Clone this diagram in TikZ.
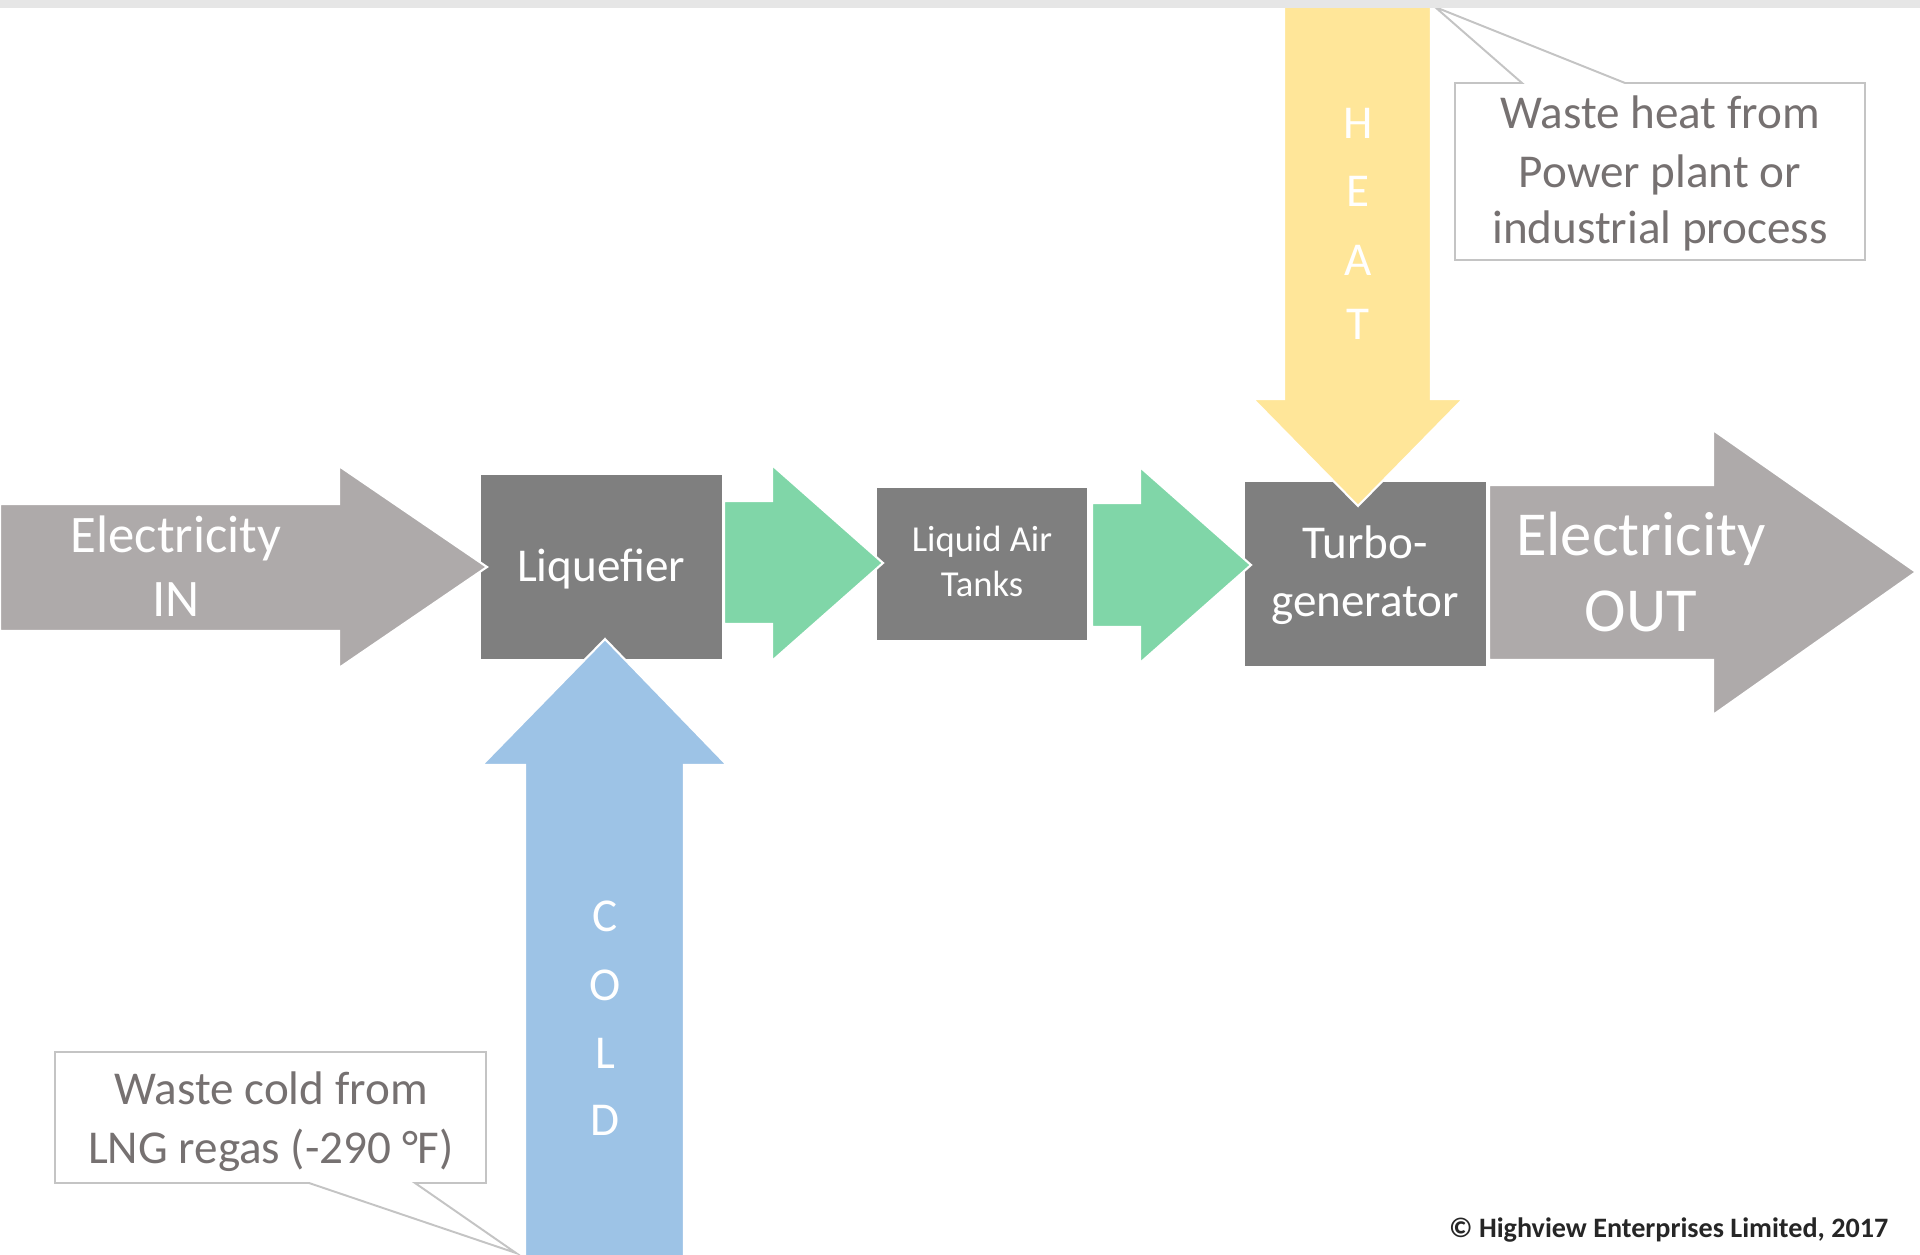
\documentclass[tikz,border=0pt]{standalone}
\usepackage{fontspec}
\setmainfont{Carlito}
\definecolor{elecgray}{HTML}{AEAAAA}
\definecolor{boxgray}{HTML}{7F7F7F}
\definecolor{flowgreen}{HTML}{80D6A8}
\definecolor{heatyellow}{HTML}{FFE699}
\definecolor{coldblue}{HTML}{9DC3E6}
\definecolor{callouttext}{HTML}{767171}
\definecolor{calloutline}{HTML}{C4C4C4}
\definecolor{topbar}{HTML}{E6E6E6}
\definecolor{copytext}{HTML}{262626}
\begin{document}
\begin{tikzpicture}[x=0.01cm,y=-0.01cm,
  procbox/.style={fill=boxgray, draw=white, line width=0.6pt, anchor=north west, inner sep=0pt},
  blockarrow/.style={draw=white, line width=0.6pt, line join=miter},
  lbl/.style={inner sep=0pt, anchor=base, text=white},
  calloutshape/.style={draw=calloutline, line width=0.55pt, fill=white, line join=miter},
  calltext/.style={inner sep=0pt, anchor=base, text=callouttext, font=\fontsize{13.4}{16}\selectfont}
]
\useasboundingbox (0,0) rectangle (1920,1255);
\fill[white] (0,0) rectangle (1920,1255);

% process boxes
\node[procbox, minimum width=2.43cm, minimum height=1.86cm] (liq) at (479,473) {};
\node[procbox, minimum width=2.12cm, minimum height=1.54cm] (tanks) at (875,486) {};
\node[procbox, minimum width=2.43cm, minimum height=1.86cm] (turbo) at (1243,480) {};

% block arrows
\fill[elecgray, blockarrow] (0,504) -- (339,504) -- (339,466) -- (487,567) -- (339,668) -- (339,631) -- (0,631) -- cycle;
\fill[flowgreen, blockarrow] (724,501) -- (772,501) -- (772,465) -- (883,563) -- (772,661) -- (772,624) -- (724,624) -- cycle;
\fill[flowgreen, blockarrow] (1092,503) -- (1140,503) -- (1140,467) -- (1251,565) -- (1140,663) -- (1140,627) -- (1092,627) -- cycle;
\fill[elecgray, blockarrow] (1489,485) -- (1713,485) -- (1713,430) -- (1916,572) -- (1713,715) -- (1713,660) -- (1489,660) -- cycle;
\fill[heatyellow, blockarrow] (1284,0) -- (1431,0) -- (1431,399) -- (1463,399) -- (1358,506) -- (1253,399) -- (1284,399) -- cycle;
\fill[coldblue, blockarrow] (525,1258) -- (525,765) -- (482,765) -- (605,639) -- (727,765) -- (684,765) -- (684,1258) -- cycle;

% box texts
\node[lbl, font=\fontsize{13.4}{16}\selectfont] (liqtxt) at (601,582) {Liquefier};
\node[lbl, font=\fontsize{10.4}{12.5}\selectfont] (tanks1) at (982,552) {Liquid Air};
\node[lbl, font=\fontsize{10.4}{12.5}\selectfont] (tanks2) at (982,597) {Tanks};
\node[lbl, font=\fontsize{13.4}{16}\selectfont] (turbo1) at (1365,559) {Turbo-};
\node[lbl, font=\fontsize{13.4}{16}\selectfont] (turbo2) at (1365,617) {generator};

% arrow texts
\node[lbl, font=\fontsize{15}{18}\selectfont] (in1) at (176,553) {Electricity};
\node[lbl, font=\fontsize{15}{18}\selectfont] (in2) at (176,617) {IN};
\node[lbl, font=\fontsize{17.8}{21}\selectfont] (out1) at (1641,556) {Electricity};
\node[lbl, font=\fontsize{17.8}{21}\selectfont] (out2) at (1641,632) {OUT};
\node[lbl, font=\fontsize{13.4}{16}\selectfont] (h1) at (1358,139) {H};
\node[lbl, font=\fontsize{13.4}{16}\selectfont] (h2) at (1358,207) {E};
\node[lbl, font=\fontsize{13.4}{16}\selectfont] (h3) at (1358,276) {A};
\node[lbl, font=\fontsize{13.4}{16}\selectfont] (h4) at (1358,340) {T};
\node[lbl, font=\fontsize{13.4}{16}\selectfont] (c1) at (605,932) {C};
\node[lbl, font=\fontsize{13.4}{16}\selectfont] (c2) at (605,1001) {O};
\node[lbl, font=\fontsize{13.4}{16}\selectfont] (c3) at (605,1068) {L};
\node[lbl, font=\fontsize{13.4}{16}\selectfont] (c4) at (605,1136) {D};

% callouts
\coordinate (heattip) at (1435,7);
\draw[calloutshape] (1455,83) -- (1522,83) -- (heattip) -- (1625,83) -- (1865,83) -- (1865,260) -- (1455,260) -- cycle;
\node[calltext] (w1) at (1660,129) {Waste heat from};
\node[calltext] (w2) at (1660,188) {Power plant or};
\node[calltext] (w3) at (1660,244) {industrial process};

\coordinate (coldtip) at (516,1253);
\draw[calloutshape] (55,1052) -- (486,1052) -- (486,1183) -- (415,1183) -- (coldtip) -- (309,1183) -- (55,1183) -- cycle;
\node[calltext] (k1) at (271,1104) {Waste cold from};
\node[calltext] (k2) at (271,1163) {LNG regas (-290 °F)};

% copyright
\node[inner sep=0pt, anchor=base east, text=copytext, font=\bfseries\fontsize{8}{10}\selectfont] (copy) at (1889,1237) {© Highview Enterprises Limited, 2017};

% top bar
\fill[topbar] (0,0) rectangle (1920,8);
\end{tikzpicture}
\end{document}
